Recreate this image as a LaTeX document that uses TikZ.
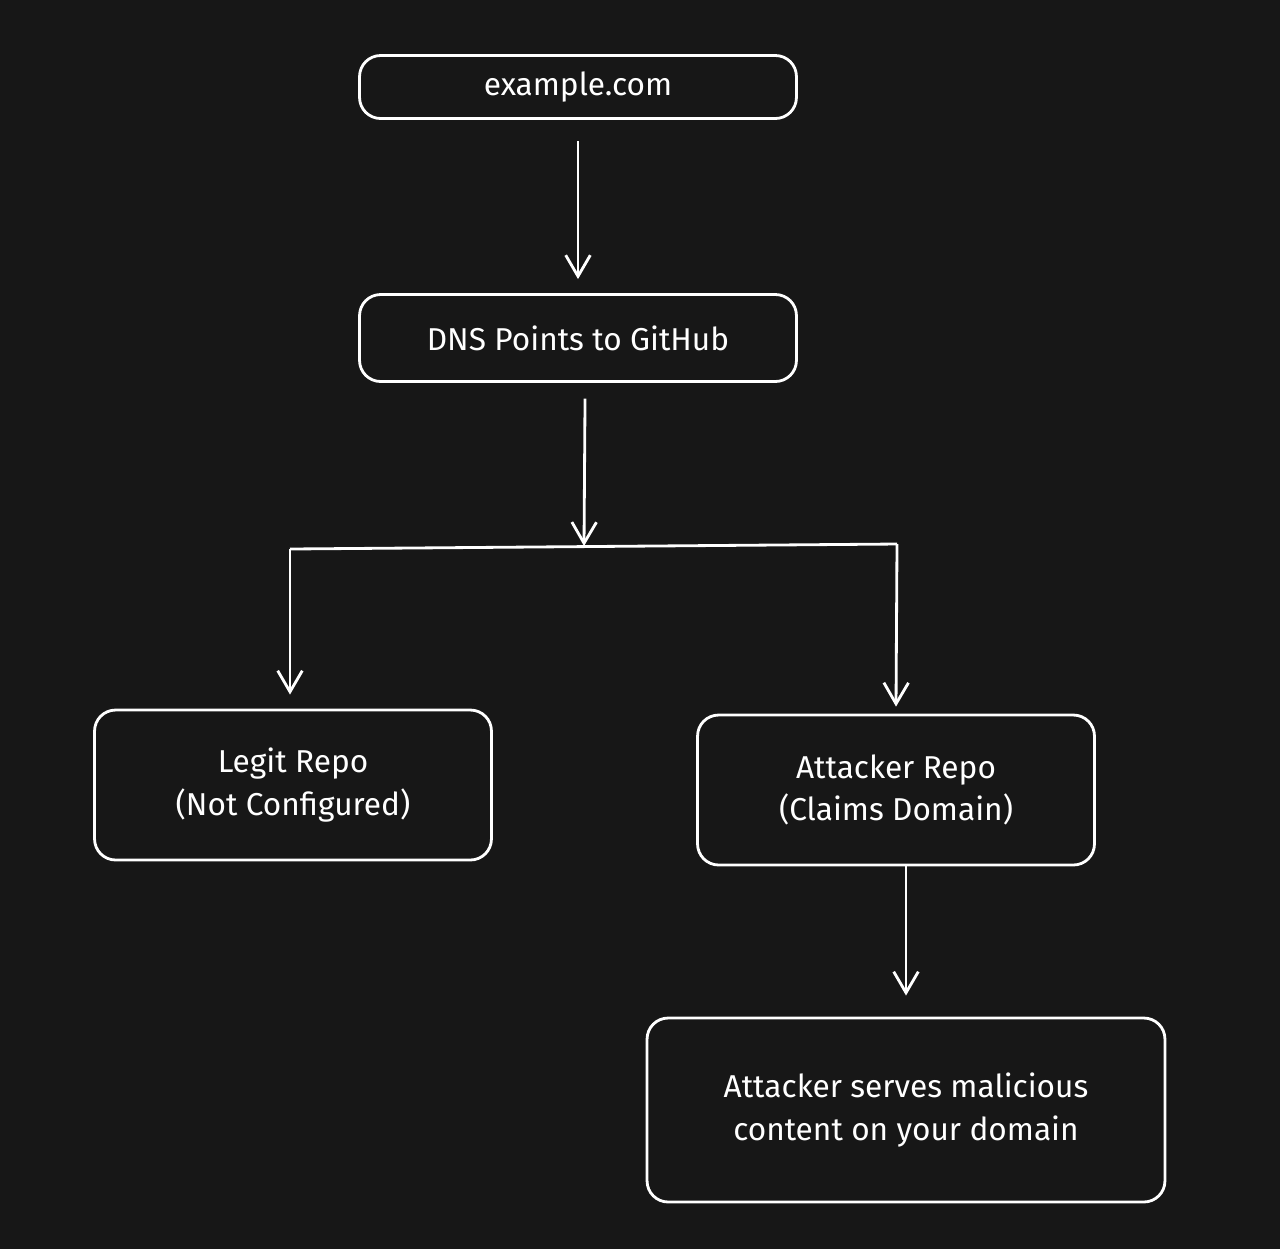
\documentclass[tikz,border=0pt]{standalone}
\usepackage{fontspec}
\setmainfont{Fira Sans}
\usetikzlibrary{arrows.meta,positioning,backgrounds}
\definecolor{PanelDark}{RGB}{23, 23, 23}

\begin{document}
\begin{tikzpicture}[x=0.02cm,y=-0.02cm,
  background rectangle/.style={fill=PanelDark}, show background rectangle,
  inner frame sep=0pt]
\tikzset{block/.style={rectangle, draw, rounded corners=12pt, line width=1.6pt,
    align=center, color=white, font=\fontsize{18}{24}\selectfont\mdseries},
  link/.style={draw=white, line width=1.6pt},
  linkarrow/.style={link, -{Straight Barb[length=12pt,width=14pt]}}}
\useasboundingbox (0,0) rectangle (1280,1249);

\node [block, minimum width=8.74cm, minimum height=1.26cm] (site) at (578,87) {example.com};
\node [block, minimum width=8.74cm, minimum height=1.74cm] (dns) at (578,338) {DNS Points to GitHub};
\node [block, minimum width=7.94cm, minimum height=3.0cm] (legit) at (293,785) {Legit Repo\\(Not Configured)};
\node [block, minimum width=7.94cm, minimum height=3.0cm] (attacker) at (896,790) {Attacker Repo\\(Claims Domain)};
\node [block, minimum width=10.36cm, minimum height=3.68cm] (serves) at (906,1110) {Attacker serves malicious\\content on your domain};
%
\coordinate (split) at (584,546);
\coordinate (splitleft) at (290,549);
\coordinate (splitright) at (897,544);
\coordinate (down) at (906,866);
%
\draw [linkarrow] ([yshift=-12pt]site.south) -- ([yshift=8pt]dns.north);
\draw [linkarrow] ([xshift=4pt,yshift=-9pt]dns.south) -- (split);
\draw [link] (splitleft) -- (splitright);
\draw [linkarrow] (splitleft) -- ([yshift=8pt]legit.north -| splitleft);
\draw [linkarrow] (splitright) -- ([yshift=4pt]attacker.north);
\draw [linkarrow] (down) -- ([yshift=12pt]serves.north -| down);

\end{tikzpicture}
\end{document}
